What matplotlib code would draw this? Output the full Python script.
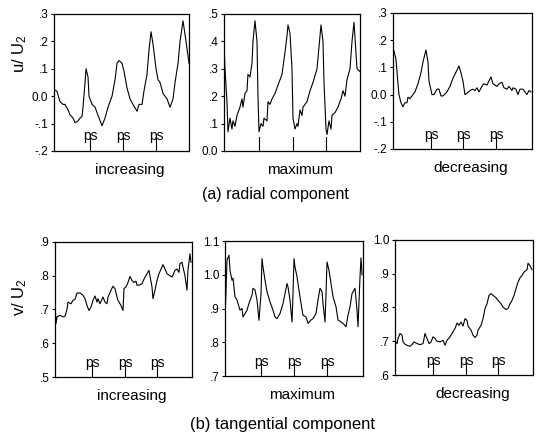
import numpy as np
import matplotlib
matplotlib.use("Agg")
import matplotlib.pyplot as plt
import matplotlib.transforms as mtransforms

plt.rcParams['font.family'] = ['Liberation Sans', 'DejaVu Sans']
plt.rcParams['mathtext.fontset'] = 'custom'
plt.rcParams['mathtext.rm'] = 'Liberation Sans'
plt.rcParams['mathtext.it'] = 'Liberation Sans:italic'

# --- (a) radial component u/U2 -------------------------------------------
u_inc_t = [0, 3, 6, 9, 11, 14, 16, 19, 21, 24, 26, 28, 29, 31, 32, 34, 35, 38,
           41, 44, 48, 51, 54, 58, 61, 63, 65, 68, 70, 73, 76, 79, 83, 85, 88,
           90, 93, 95, 97, 99, 102, 104, 106, 109, 113, 116, 119, 121, 124, 126,
           129, 132, 135]
u_inc = [0.025, 0.017, -0.02, -0.03, -0.03, -0.05, -0.068, -0.08, -0.097, -0.09,
         -0.08, -0.074, -0.04, 0.05, 0.10, 0.07, 0.0, -0.03, -0.04, -0.07, -0.108,
         -0.08, -0.04, 0.0, 0.06, 0.12, 0.13, 0.12, 0.09, 0.03, -0.01, -0.03,
         -0.055, -0.03, -0.03, 0.02, 0.08, 0.17, 0.235, 0.19, 0.10, 0.06, 0.05,
         0.01, -0.01, -0.04, -0.01, 0.05, 0.12, 0.20, 0.275, 0.20, 0.12]

u_max_t = [0, 1, 3, 4, 6, 8, 9, 11, 13, 14, 16, 18, 19, 21, 23, 24, 26, 28, 29,
           31, 33, 34, 35, 37, 39, 40, 43, 44, 46, 48, 51, 54, 58, 61, 63, 64,
           66, 68, 69, 71, 73, 74, 76, 78, 79, 83, 86, 89, 93, 95, 97, 99, 100,
           102, 103, 105, 107, 108, 111, 114, 117, 119, 121, 123, 126, 128, 130,
           133, 136]
u_max = [0.39, 0.30, 0.18, 0.07, 0.12, 0.08, 0.11, 0.09, 0.13, 0.14, 0.16, 0.19,
         0.16, 0.21, 0.22, 0.28, 0.27, 0.32, 0.40, 0.475, 0.40, 0.20, 0.07, 0.10,
         0.09, 0.12, 0.11, 0.18, 0.17, 0.19, 0.21, 0.24, 0.28, 0.36, 0.42, 0.46,
         0.43, 0.30, 0.12, 0.08, 0.10, 0.09, 0.15, 0.13, 0.16, 0.18, 0.22, 0.25,
         0.30, 0.38, 0.46, 0.40, 0.25, 0.08, 0.06, 0.11, 0.08, 0.13, 0.14, 0.16,
         0.19, 0.22, 0.20, 0.26, 0.30, 0.40, 0.47, 0.30, 0.29]

u_dec_t = [0, 3, 5, 6, 8, 10, 12, 14, 15, 17, 20, 22, 25, 28, 30, 33, 35, 36, 39,
           41, 44, 46, 48, 50, 54, 57, 60, 64, 66, 68, 70, 72, 74, 77, 80, 82,
           84, 86, 89, 91, 94, 96, 98, 100, 104, 106, 109, 111, 114, 116, 119,
           120, 123, 125, 127, 130, 132, 134, 136, 138]
u_dec = [0.175, 0.13, 0.04, 0.0, -0.03, -0.045, -0.03, -0.03, -0.01, -0.015,
         0.0, 0.01, 0.04, 0.08, 0.12, 0.164, 0.12, 0.05, 0.0, 0.0, 0.02, 0.02,
         -0.005, -0.005, 0.01, 0.03, 0.06, 0.09, 0.105, 0.08, 0.05, 0.0, 0.005,
         0.015, 0.02, 0.015, 0.025, 0.01, 0.03, 0.04, 0.035, 0.05, 0.065, 0.04,
         0.03, 0.04, 0.045, 0.025, 0.02, 0.03, 0.015, 0.025, 0.02, 0.0, 0.02,
         0.02, 0.01, 0.0, 0.015, 0.01]

# --- (b) tangential component v/U2 ---------------------------------------
v_inc_t = [0, 1, 2, 5, 8, 10, 12, 13, 16, 18, 20, 22, 25, 28, 30, 32, 34, 36, 38,
           40, 42, 43, 45, 48, 50, 52, 53, 56, 58, 60, 62, 63, 66, 68, 69, 71,
           73, 75, 77, 79, 81, 82, 84, 87, 89, 92, 94, 95, 97, 98, 100, 102, 104,
           107, 108, 110, 112, 115, 117, 120, 122, 124, 125, 127, 128, 130, 132,
           133, 135, 136]
v_inc = [0.727, 0.658, 0.678, 0.683, 0.678, 0.68, 0.70, 0.722, 0.717, 0.727,
         0.73, 0.749, 0.749, 0.742, 0.732, 0.712, 0.697, 0.707, 0.727, 0.74,
         0.722, 0.732, 0.717, 0.737, 0.722, 0.717, 0.737, 0.757, 0.769, 0.762,
         0.737, 0.727, 0.712, 0.697, 0.762, 0.767, 0.78, 0.798, 0.786, 0.78,
         0.784, 0.772, 0.772, 0.776, 0.79, 0.806, 0.816, 0.80, 0.767, 0.732,
         0.757, 0.786, 0.806, 0.826, 0.833, 0.82, 0.806, 0.80, 0.796, 0.816,
         0.82, 0.81, 0.836, 0.84, 0.826, 0.80, 0.757, 0.816, 0.865, 0.84]

v_max_t = [0, 2, 4, 5, 7, 8, 10, 12, 13, 15, 17, 18, 20, 22, 24, 27, 28, 30, 32,
           33, 34, 36, 37, 38, 40, 42, 45, 48, 50, 52, 55, 58, 60, 62, 63, 65,
           67, 68, 69, 70, 72, 74, 76, 78, 81, 83, 86, 88, 91, 93, 95, 97, 98,
           100, 101, 102, 104, 106, 108, 111, 113, 116, 118, 121, 123, 125, 127,
           130, 132, 133, 135, 136, 137]
v_max = [0.865, 1.043, 1.058, 1.013, 0.984, 0.99, 0.935, 0.925, 0.915, 0.895,
         0.90, 0.875, 0.885, 0.895, 0.915, 0.94, 0.96, 0.955, 0.925, 0.895,
         0.865, 0.944, 1.048, 1.023, 0.984, 0.95, 0.92, 0.895, 0.875, 0.87,
         0.885, 0.915, 0.944, 0.974, 0.964, 0.925, 0.86, 0.944, 1.048, 1.023,
         0.994, 0.954, 0.915, 0.88, 0.875, 0.856, 0.866, 0.87, 0.885, 0.925,
         0.96, 0.95, 0.915, 0.86, 0.944, 1.038, 1.013, 0.974, 0.935, 0.905,
         0.866, 0.86, 0.856, 0.846, 0.88, 0.905, 0.944, 0.96, 0.895, 0.846,
         0.994, 1.05, 1.0]

v_dec_t = [0, 2, 3, 5, 7, 8, 10, 12, 15, 17, 19, 22, 25, 28, 30, 32, 34, 36, 38,
           40, 42, 45, 48, 50, 52, 55, 58, 60, 62, 64, 66, 68, 70, 72, 73, 76,
           78, 80, 82, 83, 86, 88, 90, 92, 94, 96, 98, 101, 103, 106, 108, 111,
           113, 115, 117, 119, 121, 123, 125, 127, 129, 132, 133, 135, 137]
v_dec = [0.70, 0.693, 0.708, 0.723, 0.718, 0.698, 0.691, 0.688, 0.685, 0.69,
         0.698, 0.693, 0.69, 0.693, 0.723, 0.708, 0.693, 0.698, 0.713, 0.708,
         0.70, 0.698, 0.703, 0.688, 0.703, 0.713, 0.728, 0.738, 0.754, 0.747,
         0.757, 0.745, 0.767, 0.762, 0.745, 0.733, 0.718, 0.711, 0.718, 0.733,
         0.747, 0.767, 0.797, 0.811, 0.836, 0.841, 0.836, 0.829, 0.821, 0.811,
         0.801, 0.794, 0.797, 0.811, 0.821, 0.836, 0.856, 0.875, 0.888, 0.895,
         0.905, 0.912, 0.931, 0.924, 0.912]

panels = [
    # t, y, xmax, ylim, ticks, tick labels, ps positions, show "ps" text, label
    (u_inc_t, u_inc, 135, (-0.2, 0.3), [-0.2, -0.1, 0, 0.1, 0.2, 0.3],
     ['-.2', '-.1', '0.0', '.1', '.2', '.3'], [36, 69, 102], True, 'increasing'),
    (u_max_t, u_max, 136, (0.0, 0.5), [0, 0.1, 0.2, 0.3, 0.4, 0.5],
     ['0.0', '.1', '.2', '.3', '.4', '.5'], [35, 69, 102], False, 'maximum'),
    (u_dec_t, u_dec, 139, (-0.2, 0.3), [-0.2, -0.1, 0, 0.1, 0.2, 0.3],
     ['-.2', '-.1', '0.0', '.1', '.2', '.3'], [38, 70, 103], True, 'decreasing'),
    (v_inc_t, v_inc, 137, (0.5, 0.9), [0.5, 0.6, 0.7, 0.8, 0.9],
     ['.5', '.6', '.7', '.8', '.9'], [37, 70, 102], True, 'increasing'),
    (v_max_t, v_max, 138, (0.7, 1.1), [0.7, 0.8, 0.9, 1.0, 1.1],
     ['.7', '.8', '.9', '1.0', '1.1'], [36, 69, 102], True, 'maximum'),
    (v_dec_t, v_dec, 138, (0.6, 1.0), [0.6, 0.7, 0.8, 0.9, 1.0],
     ['.6', '.7', '.8', '.9', '1.0'], [38, 71, 103], True, 'decreasing'),
]

# axes rectangles in figure fractions (left, bottom, width, height)
rects = [
    (0.1006, 0.6607, 0.2514, 0.3079),
    (0.4171, 0.6607, 0.2533, 0.3079),
    (0.7318, 0.6652, 0.2588, 0.3056),
    (0.1024, 0.1528, 0.2551, 0.3034),
    (0.4190, 0.1550, 0.2570, 0.3034),
    (0.7356, 0.1573, 0.2570, 0.3034),
]

fig = plt.figure(figsize=(5.37, 4.45), dpi=100)

for (t, y, xmax, ylim, ticks, tlabels, ps, show_ps, label), rect in zip(panels, rects):
    ax = fig.add_axes(rect)
    ax.plot(t, y, color='black', lw=0.8)
    ax.set_xlim(0, xmax)
    ax.set_ylim(*ylim)
    ax.set_xticks([])
    ax.set_yticks(ticks)
    ax.set_yticklabels(tlabels)
    ax.tick_params(axis='y', direction='out', length=2.5, width=0.8,
                   labelsize=8.5, pad=1.5, colors='black')
    for s in ax.spines.values():
        s.set_linewidth(0.9)
    trans = mtransforms.blended_transform_factory(ax.transData, ax.transAxes)
    for p in ps:
        ax.plot([p, p], [0, 0.1], color='black', lw=0.8, transform=trans)
        if show_ps:
            ax.text(p + 0.5, 0.055, 'ps', transform=trans, ha='center',
                    va='bottom', fontsize=10)
    ax.text(0.56, -0.14, label, transform=ax.transAxes, ha='center',
            va='center', fontsize=11)

fig.text(0.037, 0.88, r'u/ U$_2$', rotation=90, ha='center', va='center',
         fontsize=12)
fig.text(0.037, 0.333, r'v/ U$_2$', rotation=90, ha='center', va='center',
         fontsize=12)
fig.text(0.512, 0.564, '(a) radial component', ha='center', va='center',
         fontsize=11.5)
fig.text(0.527, 0.045, '(b) tangential component', ha='center', va='center',
         fontsize=12)

fig.savefig('out.png', dpi=100)
